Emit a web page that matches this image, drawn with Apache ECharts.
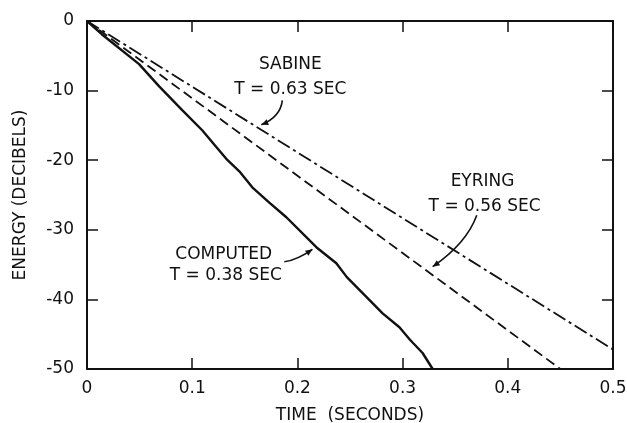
<!DOCTYPE html>
<html>
<head>
<meta charset="utf-8">
<script src="https://cdn.jsdelivr.net/npm/echarts@6/dist/echarts.min.js"></script>
<style>
html,body{margin:0;padding:0;background:#fff;}
#c{width:627px;height:423px;}
</style>
</head>
<body>
<div id="c"></div>
<script>
// ---- data ----
const xTicks = [0, 0.1, 0.2, 0.3, 0.4, 0.5];
const yTicks = [0, -10, -20, -30, -40, -50];

const computedTime = [0, 0.014, 0.0495, 0.0686, 0.0905, 0.1095, 0.1229, 0.1324, 0.1448, 0.1571, 0.1733, 0.1895, 0.218, 0.237, 0.247, 0.266, 0.281, 0.297, 0.307, 0.319, 0.3286];
const computedEnergy = [0, -1.9, -6.2, -9.4, -12.8, -15.7, -18.1, -19.8, -21.6, -23.9, -26.1, -28.2, -32.5, -34.8, -36.8, -39.7, -42.0, -44.0, -45.8, -47.7, -50];

const eyringTime = [0, 0.45];
const eyringEnergy = [0, -50];

const sabineTime = [0, 0.5];
const sabineEnergy = [0, -47.2];

const labelTexts = [
  ['SABINE', 'T = 0.63 SEC'],
  ['EYRING', 'T = 0.56 SEC'],
  ['COMPUTED', 'T = 0.38 SEC']
];
// annotation anchors in data coordinates: [line1 centre, line2 centre, leader start, leader control, leader end]
const annotAnchors = [
  [[0.1933, -6.3], [0.1933, -9.8], [0.1857, -11.4], [0.1838, -13.8], [0.1657, -14.9]],
  [[0.376, -23.1], [0.378, -26.7], [0.3705, -27.9], [0.3610, -31.9], [0.3286, -35.3]],
  [[0.130, -33.5], [0.132, -36.6], [0.1876, -34.6], [0.2000, -34.3], [0.2143, -32.8]]
];

const FONT = '"DejaVu Sans", sans-serif';
const INK = '#111';

function pairs(xs, ys) { return xs.map((x, i) => [x, ys[i]]); }

const chart = echarts.init(document.getElementById('c'), null, {renderer: 'canvas'});

const axisCommon = {
  axisLine: {show: true, onZero: false, lineStyle: {color: INK, width: 2}},
  axisTick: {show: true, inside: true, length: 11, lineStyle: {color: INK, width: 1.5}},
  splitLine: {show: false}
};

chart.setOption({
  backgroundColor: '#fff',
  animation: false,
  grid: {left: 87, right: 14, top: 21, bottom: 54, containLabel: false, outerBoundsMode: 'none'},
  xAxis: [
    Object.assign({
      type: 'value', min: 0, max: 0.5, interval: 0.1, position: 'bottom',
      name: 'TIME  (SECONDS)', nameLocation: 'middle', nameGap: 38,
      nameTextStyle: {fontFamily: FONT, fontSize: 17, color: INK},
      axisLabel: {margin: 11, fontFamily: FONT, fontSize: 17, color: INK,
        formatter: v => String(xTicks.find(t => Math.abs(t - v) < 1e-9) ?? v)}
    }, axisCommon),
    Object.assign({
      type: 'value', min: 0, max: 0.5, interval: 0.1, position: 'top',
      axisLabel: {show: false}
    }, axisCommon)
  ],
  yAxis: [
    Object.assign({
      type: 'value', min: -50, max: 0, interval: 10, position: 'left',
      name: 'ENERGY (DECIBELS)', nameLocation: 'middle', nameGap: 58, nameRotate: 90,
      nameTextStyle: {fontFamily: FONT, fontSize: 17, color: INK},
      axisLabel: {margin: 13, fontFamily: FONT, fontSize: 17, color: INK,
        formatter: v => String(yTicks.find(t => Math.abs(t - v) < 1e-9) ?? v)}
    }, axisCommon),
    Object.assign({
      type: 'value', min: -50, max: 0, interval: 10, position: 'right',
      axisLabel: {show: false}
    }, axisCommon)
  ],
  series: [
    {type: 'line', name: 'Sabine', data: pairs(sabineTime, sabineEnergy), symbol: 'none',
      lineStyle: {color: INK, width: 1.8, type: [14, 4, 3, 4]}},
    {type: 'line', name: 'Eyring', data: pairs(eyringTime, eyringEnergy), symbol: 'none',
      lineStyle: {color: INK, width: 1.8, type: [10, 5]}},
    {type: 'line', name: 'Computed', data: pairs(computedTime, computedEnergy), symbol: 'none',
      lineStyle: {color: INK, width: 2.4}}
  ]
});

function px(p) { return chart.convertToPixel({xAxisIndex: 0, yAxisIndex: 0}, p); }

const graphics = [];
annotAnchors.forEach((a, i) => {
  const c1 = px(a[0]), c2 = px(a[1]);
  [c1, c2].forEach((c, j) => {
    graphics.push({type: 'text', x: c[0], y: c[1], z: 100,
      style: {text: labelTexts[i][j], font: '17px ' + FONT, fill: INK, align: 'center', verticalAlign: 'middle'}});
  });
  const s = px(a[2]), cp = px(a[3]), e = px(a[4]);
  graphics.push({type: 'bezierCurve', z: 100,
    shape: {x1: s[0], y1: s[1], x2: e[0], y2: e[1], cpx1: cp[0], cpy1: cp[1]},
    style: {stroke: INK, lineWidth: 1.6, fill: null}});
  const dx = e[0] - cp[0], dy = e[1] - cp[1];
  const L = Math.hypot(dx, dy) || 1;
  const ux = dx / L, uy = dy / L;
  const al = 7, aw = 3;
  graphics.push({type: 'polygon', z: 100,
    shape: {points: [[e[0], e[1]],
      [e[0] - ux * al - uy * aw, e[1] - uy * al + ux * aw],
      [e[0] - ux * al + uy * aw, e[1] - uy * al - ux * aw]]},
    style: {fill: INK}});
});
chart.setOption({graphic: graphics});
</script>
</body>
</html>
